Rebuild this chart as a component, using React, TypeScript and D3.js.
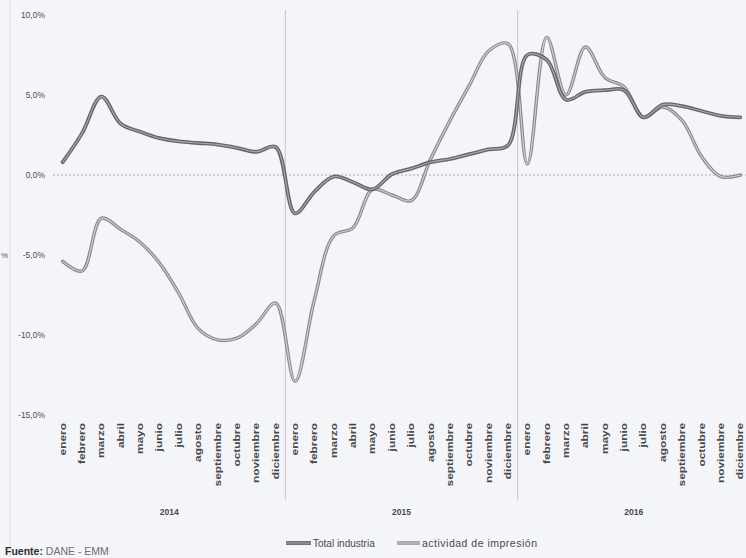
import React from 'react'
import * as d3 from 'd3'

// categorias del eje X (mes / año)
const meses = ['enero', 'febrero', 'marzo', 'abril', 'mayo', 'junio', 'julio', 'agosto', 'septiembre', 'octubre', 'noviembre', 'diciembre']
const anios = ['2014', '2015', '2016']

// variacion (%), ene-2014 .. dic-2016
const totalIndustria = [0.8, 2.6, 4.9, 3.2, 2.7, 2.3, 2.1, 2.0, 1.9, 1.7, 1.45, 1.75,
  -2.4, -1.05, -0.1, -0.45, -0.9, 0.05, 0.4, 0.8, 1.0, 1.3, 1.6, 1.85,
  7.5, 7.2, 4.7, 5.2, 5.3, 5.3, 3.6, 4.4, 4.3, 4.0, 3.7, 3.6]
const impresion = [-5.4, -6.0, -2.7, -3.4, -4.2, -5.5, -7.4, -9.6, -10.3, -10.2, -9.3, -8.0,
  -12.9, -7.8, -3.8, -3.3, -0.9, -1.25, -1.6, 1.0, 3.4, 5.6, 7.75, 8.2,
  0.7, 8.6, 5.0, 8.0, 6.1, 5.5, 3.6, 4.25, 3.4, 1.15, -0.1, 0.0]

const yTicks = [10, 5, 0, -5, -10, -15]
const yTickLabels = ['10,0%', '5,0%', '0,0%', '-5,0%', '-10,0%', '-15,0%']

const W = 746, H = 558
const font = 'Liberation Sans, Arial, sans-serif'

export default function App() {
  const cats = anios.flatMap(a => meses.map(m => a + '-' + m))
  const x = d3.scaleBand().domain(cats).range([53, 750]).padding(0)
  const y = d3.scaleLinear().domain([-15, 10]).range([415, 15])
  const cx = (i: number) => (x(cats[i]) as number) + x.bandwidth() / 2

  const line = d3.line<number>()
    .x((d, i) => cx(i))
    .y(d => y(d))
    .curve(d3.curveCatmullRom.alpha(0.5))

  const series = [
    { name: 'actividad de impresión', values: impresion, outer: '#8a8a8a', inner: '#d0d1d4', w: 3.4 },
    { name: 'Total industria', values: totalIndustria, outer: '#666666', inner: '#a9aaad', w: 3.8 },
  ]

  const sep = [12, 24].map(i => x(cats[i]) as number)

  return (
    <svg width={W} height={H} style={{ position: 'fixed', left: 0, top: 0, display: 'block', background: '#f3f5f9' }}
      fontFamily={font}>
      {/* borde del escaneo */}
      <line x1={10} x2={10} y1={0} y2={H} stroke="#e1e4ea" strokeWidth={1.5} />
      {/* separadores de año */}
      {sep.map((sx, i) => (
        <line key={i} x1={sx} x2={sx} y1={10} y2={500} stroke="#c4c6ca" strokeWidth={1} />
      ))}
      {/* linea de cero */}
      <line x1={53} x2={W} y1={y(0)} y2={y(0)} stroke="#a9abb0" strokeWidth={1} strokeDasharray="2,2" />

      {/* eje Y */}
      {yTicks.map((t, i) => (
        <text key={t} x={45} y={y(t)} dy="0.35em" textAnchor="end" fontSize={8.5} fill="#4e4e4e">{yTickLabels[i]}</text>
      ))}
      <text x={1} y={258} fontSize={8} fill="#555">%</text>

      {/* series */}
      {series.map(s => (
        <g key={s.name} fill="none" strokeLinejoin="round" strokeLinecap="round">
          <path d={line(s.values) || ''} stroke={s.outer} strokeWidth={s.w} />
          <path d={line(s.values) || ''} stroke={s.inner} strokeWidth={1.1} />
        </g>
      ))}

      {/* meses */}
      {cats.map((c, i) => (
        <text key={c} transform={`translate(${cx(i)},423) rotate(-90) scale(1.4,1)`} dy="0.35em"
          textAnchor="end" fontSize={8.5} fontWeight="bold" fill="#4a4a4a">{meses[i % 12]}</text>
      ))}
      {/* años */}
      {anios.map((a, k) => (
        <text key={a} x={(cx(k * 12) + cx(k * 12 + 11)) / 2} y={512} dy="0.35em" textAnchor="middle"
          fontSize={8.5} fontWeight="bold" fill="#4a4a4a">{a}</text>
      ))}

      {/* leyenda */}
      <g>
        <line x1={286} x2={311} y1={543} y2={543} stroke="#666666" strokeWidth={3.8} />
        <line x1={286} x2={311} y1={543} y2={543} stroke="#a9aaad" strokeWidth={1.1} />
        <text x={313} y={543} dy="0.35em" fontSize={10} fill="#4a4a4a">Total industria</text>
        <line x1={397} x2={420} y1={543} y2={543} stroke="#8a8a8a" strokeWidth={3.4} />
        <line x1={397} x2={420} y1={543} y2={543} stroke="#d0d1d4" strokeWidth={1.1} />
        <text x={422} y={543} dy="0.35em" fontSize={10.5} fill="#4a4a4a" letterSpacing={0.5}>actividad de impresión</text>
      </g>

      {/* fuente */}
      <text x={5} y={551} dy="0.35em" fontSize={10.5}>
        <tspan fill="#2e2e2e" fontWeight="bold">Fuente:</tspan>
        <tspan fill="#6e6e6e"> DANE - EMM</tspan>
      </text>
    </svg>
  )
}
